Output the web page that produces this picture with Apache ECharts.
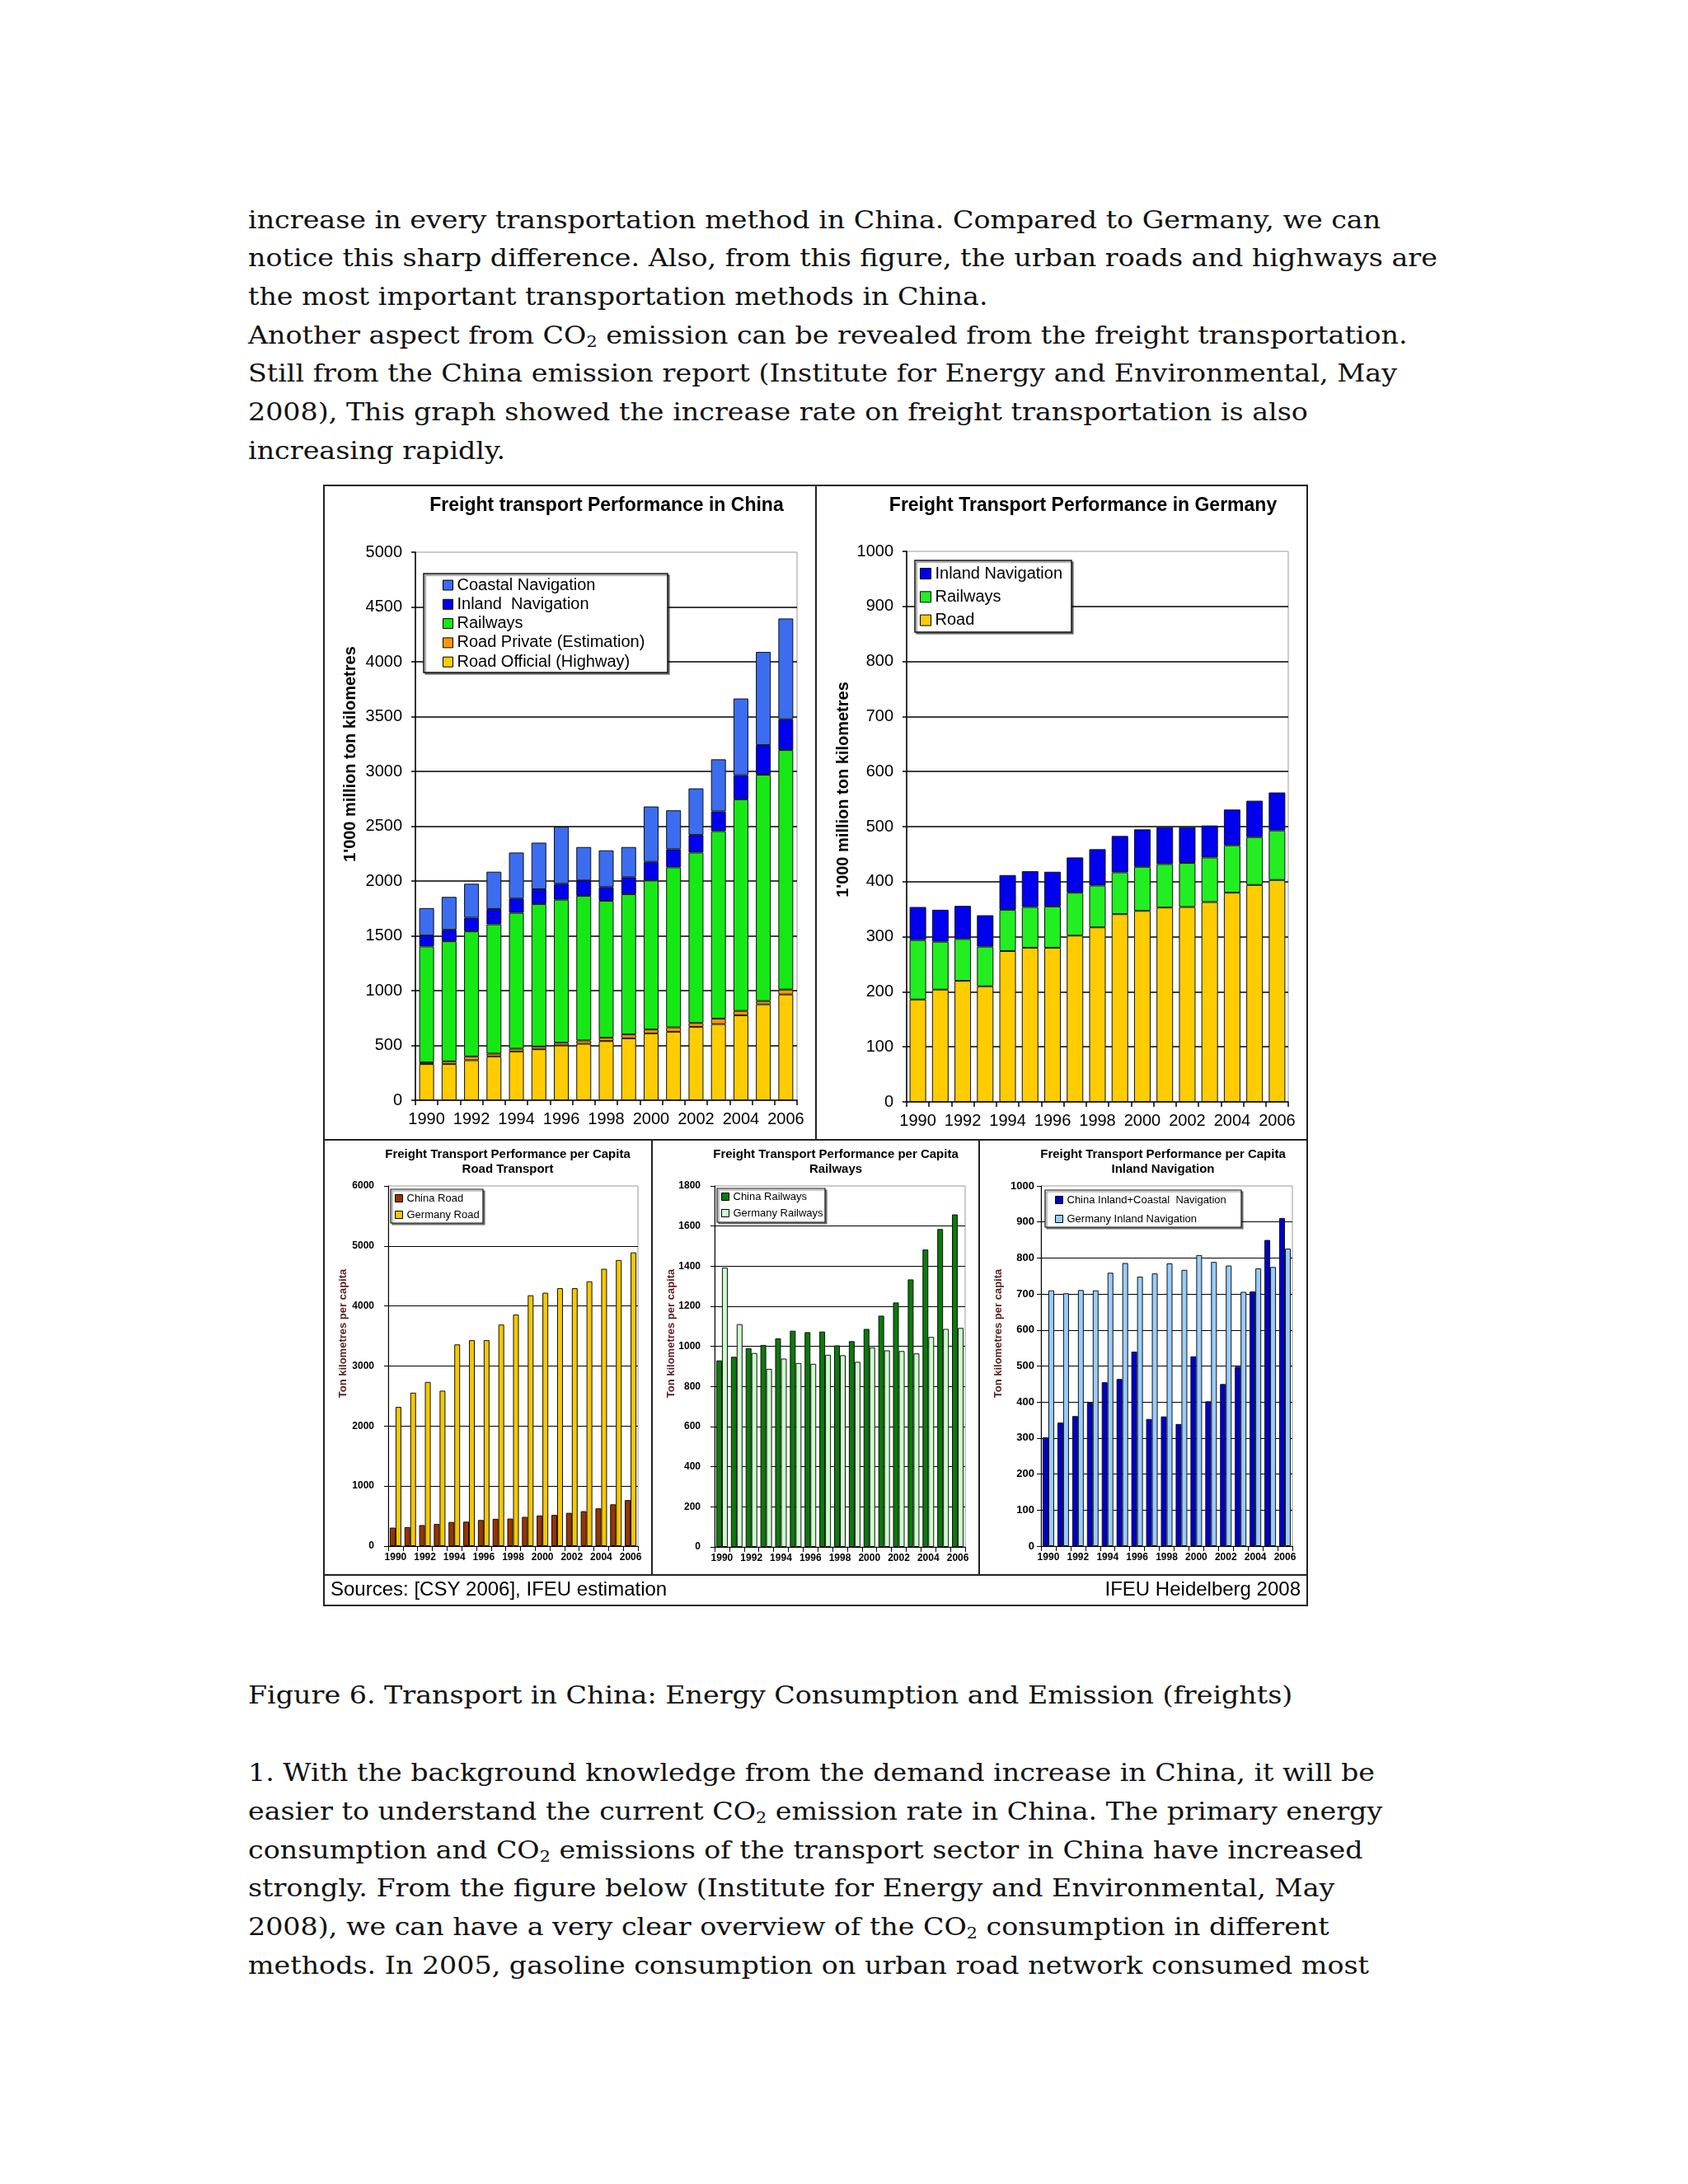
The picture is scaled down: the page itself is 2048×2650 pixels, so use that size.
<!DOCTYPE html>
<html><head><meta charset="utf-8">
<script src="https://cdn.jsdelivr.net/npm/echarts@6/dist/echarts.min.js"></script>
<style>
html,body{margin:0;padding:0;background:#fff;}
#page{position:relative;width:2048px;height:2650px;overflow:hidden;background:#fff;}
.ln{position:absolute;left:301px;white-space:nowrap;transform-origin:0 0;font-family:'DejaVu Serif',serif;font-size:30px;line-height:30px;color:#111;}
.ln sub{font-size:0.62em;vertical-align:-0.22em;line-height:0;}
#chart{position:absolute;left:0;top:0;width:2048px;height:2650px;}
</style></head>
<body><div id="page"><div id="text"></div><div id="chart"></div></div>
<script>
// ---------- data ----------
const years = ['1990','1991','1992','1993','1994','1995','1996','1997','1998','1999','2000','2001','2002','2003','2004','2005','2006'];
// China, 1'000 million tkm (stacked)
const cnRoadOfficial = [330, 330, 365, 400, 445, 465, 500, 515, 540, 565, 610, 625, 670, 695, 775, 875, 965];
const cnRoadPrivate  = [15, 25, 35, 25, 25, 25, 25, 30, 30, 35, 35, 40, 35, 50, 40, 30, 45];
const cnRailways     = [1058, 1095, 1140, 1180, 1240, 1300, 1305, 1320, 1250, 1280, 1360, 1460, 1555, 1710, 1930, 2065, 2185];
const cnInland       = [100, 105, 125, 140, 130, 135, 145, 140, 125, 155, 170, 165, 160, 180, 220, 270, 280];
const cnCoastal      = [250, 300, 310, 340, 420, 425, 520, 305, 335, 275, 505, 355, 425, 475, 700, 850, 920];
// Germany, 1'000 million tkm (stacked)
const deRoad     = [186, 204, 220, 210, 274, 280, 280, 302, 317, 341, 347, 353, 354, 363, 380, 394, 403];
const deRailways = [108, 87, 76, 72, 75, 74, 75, 78, 76, 76, 80, 79, 80, 81, 86, 87, 90];
const deInland   = [60, 58, 60, 57, 63, 65, 63, 64, 66, 66, 68, 67, 65, 58, 65, 66, 69];
// per capita, tkm
const cnRoadPC = [308, 317, 350, 369, 402, 407, 435, 454, 459, 487, 511, 520, 554, 582, 629, 696, 767];
const deRoadPC = [2319, 2556, 2735, 2589, 3360, 3431, 3431, 3691, 3857, 4179, 4221, 4297, 4297, 4411, 4619, 4766, 4893];
const cnRailPC = [930, 948, 991, 1007, 1040, 1078, 1071, 1074, 1005, 1026, 1087, 1153, 1219, 1334, 1483, 1585, 1658];
const deRailPC = [1393, 1111, 967, 888, 939, 917, 913, 958, 956, 923, 995, 980, 977, 965, 1047, 1087, 1092];
const cnNavPC  = [302, 343, 361, 398, 455, 464, 540, 353, 360, 339, 527, 402, 450, 498, 707, 850, 911];
const deNavPC  = [710, 702, 711, 710, 759, 786, 748, 757, 785, 767, 808, 789, 779, 706, 771, 775, 826];

// ---------- page text ----------
const para1 = [
 'increase in every transportation method in China. Compared to Germany, we can',
 'notice this sharp difference. Also, from this figure, the urban roads and highways are',
 'the most important transportation methods in China.',
 'Another aspect from CO<sub>2</sub> emission can be revealed from the freight transportation.',
 'Still from the China emission report (Institute for Energy and Environmental, May',
 '2008), This graph showed the increase rate on freight transportation is also',
 'increasing rapidly.'
];
const caption = 'Figure 6. Transport in China: Energy Consumption and Emission (freights)';
const para2 = [
 '1. With the background knowledge from the demand increase in China, it will be',
 'easier to understand the current CO<sub>2</sub> emission rate in China. The primary energy',
 'consumption and CO<sub>2</sub> emissions of the transport sector in China have increased',
 'strongly. From the figure below (Institute for Energy and Environmental, May',
 '2008), we can have a very clear overview of the CO<sub>2</sub> consumption in different',
 'methods. In 2005, gasoline consumption on urban road network consumed most'
];

(function(){
  const host = document.getElementById('text');
  const lines = [];
  const add = (html, baseline) => {
    const d = document.createElement('div');
    d.className = 'ln'; d.innerHTML = html;
    d.style.top = (baseline - 25.4) + 'px';
    host.appendChild(d); lines.push(d); return d;
  };
  let ref = null;
  para1.forEach((t,i) => { const d = add(t, 277 + 46.7*i); if (i === 1) ref = d; });
  add(caption, 2067);
  para2.forEach((t,i) => add(t, 2161.7 + 46.7*i));
  const w = ref.getBoundingClientRect().width;
  const s = 1443 / w;
  lines.forEach(d => d.style.transform = 'scaleX(' + s + ')');
})();

// ---------- chart ----------
const FONT = "'Liberation Sans', Arial, sans-serif";
const chart = echarts.init(document.getElementById('chart'), null, {renderer:'canvas', width:2048, height:2650});
const plain = v => String(v);

function grid(l,t,w,h){return {left:l,top:t,width:w,height:h,show:true,borderColor:'#9a9a9a',borderWidth:1,backgroundColor:'transparent',containLabel:false,outerBoundsMode:'none'};}
function xAx(g, fs, margin, lw, bold){
  return {type:'category', gridIndex:g, data:years, boundaryGap:true,
    axisLine:{show:true, onZero:false, lineStyle:{color:'#000', width:lw}},
    axisTick:{show:true, interval:0, alignWithLabel:false, length:6, lineStyle:{color:'#000', width:lw}},
    axisLabel:{show:true, interval:1, fontSize:fs, fontFamily:FONT, color:'#000', margin:margin, fontWeight:bold?'bold':'normal', hideOverlap:false},
    splitLine:{show:false}};
}
function yAx(g, max, step, fs, margin, lw, bold){
  return {type:'value', gridIndex:g, min:0, max:max, interval:step,
    axisLine:{show:true, lineStyle:{color:'#000', width:lw}},
    axisTick:{show:true, length:5, lineStyle:{color:'#000', width:lw}},
    axisLabel:{fontSize:fs, fontFamily:FONT, color:'#000', margin:margin, fontWeight:bold?'bold':'normal', formatter:plain},
    splitLine:{show:true, showMaxLine:false, showMinLine:false, lineStyle:{color:'#000', width:lw}}};
}
function bar(name, g, data, color, opts){
  return Object.assign({type:'bar', name:name, xAxisIndex:g, yAxisIndex:g, data:data,
    itemStyle:{color:color, borderColor:'#111', borderWidth:1},
    emphasis:{disabled:true}, silent:true, animation:false}, opts||{});
}
function legend(names, left, top, icon, gap, fs, lh){
  return {show:true, orient:'vertical', left:left, top:top, padding:0, itemWidth:icon, itemHeight:icon, itemGap:gap,
    icon:'rect', selectedMode:false, z:12, data:names,
    itemStyle:{borderColor:'#000', borderWidth:1},
    textStyle:{fontSize:fs, fontFamily:FONT, color:'#000', lineHeight:lh}};
}
function txt(x,y,text,font,opts){
  return Object.assign({type:'text', x:x, y:y, z:20, silent:true,
    style:{text:text, font:font, fill:'#000', align:'center', verticalAlign:'middle'}}, opts||{});
}
function vtxt(x,y,text,font,fill){
  return {type:'text', x:x, y:y, z:20, silent:true, rotation:Math.PI/2,
    style:{text:text, font:font, fill:fill, align:'center', verticalAlign:'middle'}};
}
function boxRect(x,y,w,h,lw){
  return {type:'rect', z:10, silent:true, shape:{x:x,y:y,width:w,height:h},
    style:{fill:'#fff', stroke:'#111', lineWidth:lw, shadowColor:'rgba(0,0,0,0.45)', shadowOffsetX:2, shadowOffsetY:2, shadowBlur:1}};
}
function ln(x1,y1,x2,y2){return {type:'line', z:20, silent:true, shape:{x1:x1,y1:y1,x2:x2,y2:y2}, style:{stroke:'#222', lineWidth:2}};}

const C_COAST='#3c6df0', C_INL='#0000f0', C_RAIL='#16e816', C_RPRIV='#ff9900', C_ROFF='#ffcc00';

const option = {
  animation:false,
  backgroundColor:'transparent',
  textStyle:{fontFamily:FONT},
  grid:[
    grid(504, 670, 463, 665),
    grid(1100, 669, 463, 668),
    grid(471, 1439, 303, 437),
    grid(867, 1439, 304, 438),
    grid(1263, 1439, 305, 437)
  ],
  xAxis:[
    xAx(0, 20, 13, 1.5, false),
    xAx(1, 20, 13, 1.5, false),
    xAx(2, 12, 8, 1, true),
    xAx(3, 12, 8, 1, true),
    xAx(4, 12, 8, 1, true)
  ],
  yAxis:[
    yAx(0, 5000, 500, 20, 16, 1.5, false),
    yAx(1, 1000, 100, 20, 16, 1.5, false),
    yAx(2, 6000, 1000, 12, 17, 1, true),
    yAx(3, 1800, 200, 12, 17, 1, true),
    yAx(4, 1000, 100, 13, 8, 1, true)
  ],
  legend:[
    legend(['Coastal Navigation','Inland  Navigation','Railways','Road Private (Estimation)','Road Official (Highway)'], 537, 700, 12, 3.3, 20, 20),
    legend(['Inland Navigation','Railways ','Road'], 1116, 686, 13, 8.3, 20, 20),
    legend(['China Road','Germany Road'], 479, 1447, 9, 6, 13, 14),
    legend(['China Railways','Germany Railways'], 875, 1445, 9, 6, 13, 14),
    legend(['China Inland+Coastal  Navigation','Germany Inland Navigation'], 1280, 1449, 9, 9, 13, 14)
  ],
  series:[
    bar('Road Official (Highway)', 0, cnRoadOfficial, C_ROFF, {stack:'cn', barWidth:18}),
    bar('Road Private (Estimation)', 0, cnRoadPrivate, C_RPRIV, {stack:'cn', barWidth:18}),
    bar('Railways', 0, cnRailways, C_RAIL, {stack:'cn', barWidth:18}),
    bar('Inland  Navigation', 0, cnInland, C_INL, {stack:'cn', barWidth:18}),
    bar('Coastal Navigation', 0, cnCoastal, C_COAST, {stack:'cn', barWidth:18}),

    bar('Road', 1, deRoad, '#ffcc00', {stack:'de', barWidth:20}),
    bar('Railways ', 1, deRailways, '#22ee22', {stack:'de', barWidth:20}),
    bar('Inland Navigation', 1, deInland, '#0000ee', {stack:'de', barWidth:20}),

    bar('China Road', 2, cnRoadPC, '#993300', {barWidth:7, barGap:'0%'}),
    bar('Germany Road', 2, deRoadPC, '#f5c800', {barWidth:7, barGap:'0%'}),
    bar('China Railways', 3, cnRailPC, '#0b7a0b', {barWidth:7, barGap:'0%'}),
    bar('Germany Railways', 3, deRailPC, '#ccffcc', {barWidth:7, barGap:'0%'}),
    bar('China Inland+Coastal  Navigation', 4, cnNavPC, '#0000c8', {barWidth:7, barGap:'0%'}),
    bar('Germany Inland Navigation', 4, deNavPC, '#99ccff', {barWidth:7, barGap:'0%'})
  ],
  graphic:{elements:[
    // frame
    {type:'rect', z:20, silent:true, shape:{x:393,y:589,width:1193,height:1359}, style:{fill:'none', stroke:'#222', lineWidth:2}},
    ln(990,589,990,1383), ln(393,1383,1586,1383),
    ln(791,1383,791,1911), ln(1188,1383,1188,1911), ln(393,1911,1586,1911),
    // titles
    txt(736, 614, 'Freight transport Performance in China', 'bold 23px ' + FONT),
    txt(1314, 614, 'Freight Transport Performance in Germany', 'bold 23px ' + FONT),
    txt(616, 1401, 'Freight Transport Performance per Capita', 'bold 15px ' + FONT),
    txt(616, 1419, 'Road Transport', 'bold 15px ' + FONT),
    txt(1014, 1401, 'Freight Transport Performance per Capita', 'bold 15px ' + FONT),
    txt(1014, 1419, 'Railways', 'bold 15px ' + FONT),
    txt(1411, 1401, 'Freight Transport Performance per Capita', 'bold 15px ' + FONT),
    txt(1411, 1419, 'Inland Navigation', 'bold 15px ' + FONT),
    // axis names
    vtxt(425, 915, "1'000 million ton kilometres", 'bold 20px ' + FONT, '#000'),
    vtxt(1023, 958, "1'000 million ton kilometres", 'bold 20px ' + FONT, '#000'),
    vtxt(416, 1618, 'Ton kilometres per capita', 'bold 13px ' + FONT, '#5a1e1e'),
    vtxt(814, 1618, 'Ton kilometres per capita', 'bold 13px ' + FONT, '#5a1e1e'),
    vtxt(1211, 1618, 'Ton kilometres per capita', 'bold 13px ' + FONT, '#5a1e1e'),
    // legend boxes
    boxRect(514, 696, 296, 120, 1.5),
    boxRect(1110, 680, 190, 87, 1.5),
    boxRect(474, 1443, 112, 41, 1.2),
    boxRect(870, 1442, 131, 41, 1.2),
    boxRect(1268, 1444, 238, 45, 1.2),
    // sources
    {type:'text', x:401, y:1929, z:20, silent:true, style:{text:'Sources: [CSY 2006], IFEU estimation', font:'24px '+FONT, fill:'#000', align:'left', verticalAlign:'middle'}},
    {type:'text', x:1578, y:1929, z:20, silent:true, style:{text:'IFEU Heidelberg 2008', font:'24px '+FONT, fill:'#000', align:'right', verticalAlign:'middle'}}
  ]}
};
chart.setOption(option);
</script>
</body></html>
